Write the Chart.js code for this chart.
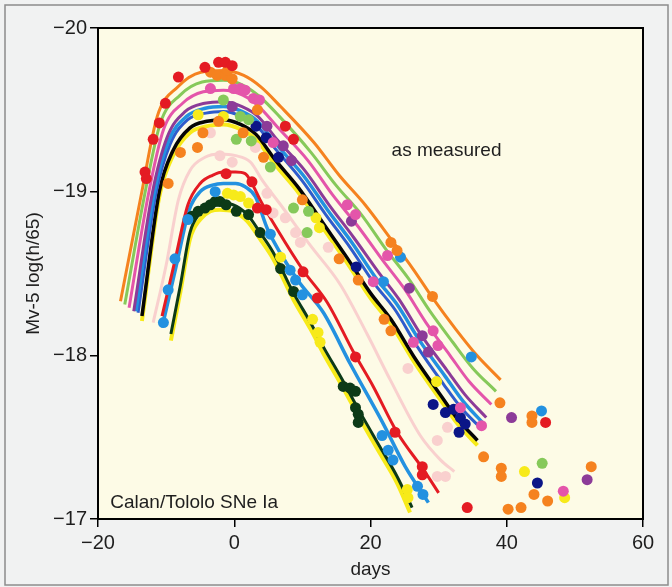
<!DOCTYPE html>
<html>
<head>
<meta charset="utf-8">
<script src="https://cdn.jsdelivr.net/npm/chart.js@4"></script>
<style>
  html, body { margin: 0; padding: 0; background: #f1f2f2; }
  canvas { display: block; }
</style>
</head>
<body>
<canvas id="lightCurves" width="672" height="587"></canvas>
<script>
// Calan/Tololo type Ia supernova light curves, as measured
// days since peak / absolute magnitude Mv - 5 log(h/65)

// --- fitted curves, bright group ---
const orangeDays = [-16.7, -13.7, -11.3, -8.3, -4.9, -1.6, 1.4, 3.9, 6.8, 11.7, 15.4, 19.2, 23.0, 26.2, 29.3, 32.5, 35.6, 39.1];
const orangeMags = [-18.33, -18.97, -19.46, -19.64, -19.73, -19.74, -19.71, -19.64, -19.52, -19.30, -19.10, -18.92, -18.71, -18.53, -18.34, -18.16, -18.00, -17.85];

const greenDays = [-16.07, -13.16, -10.84, -7.94, -4.72, -1.6, 1.32, 3.76, 6.62, 11.26, 14.92, 18.66, 22.4, 25.56, 28.72, 32.08, 35.04, 38.42];
const greenMags = [-18.31, -18.98, -19.42, -19.59, -19.67, -19.68, -19.65, -19.58, -19.46, -19.24, -19.04, -18.86, -18.64, -18.47, -18.27, -18.08, -17.92, -17.78];

const pinkDays = [-15.44, -12.62, -10.38, -7.58, -4.54, -1.6, 1.24, 3.62, 6.44, 10.82, 14.44, 18.12, 21.8, 24.92, 28.14, 31.66, 34.48, 37.74];
const pinkMags = [-18.29, -18.98, -19.38, -19.54, -19.61, -19.62, -19.59, -19.52, -19.39, -19.19, -18.98, -18.79, -18.58, -18.41, -18.20, -18.00, -17.84, -17.70];

const purpleDays = [-14.75, -12.03, -9.87, -7.18, -4.34, -1.6, 1.15, 3.47, 6.24, 10.34, 13.91, 17.53, 21.14, 24.22, 27.5, 31.2, 33.86, 36.99];
const purpleMags = [-18.27, -18.99, -19.33, -19.49, -19.54, -19.55, -19.52, -19.46, -19.32, -19.13, -18.92, -18.72, -18.51, -18.34, -18.12, -17.91, -17.76, -17.62];

const blueDays = [-14.43, -11.76, -9.64, -7.0, -4.25, -1.6, 1.11, 3.4, 6.15, 10.12, 13.67, 17.26, 20.84, 23.9, 27.21, 30.99, 33.58, 36.65];
const blueMags = [-18.27, -18.99, -19.31, -19.46, -19.51, -19.52, -19.49, -19.43, -19.29, -19.10, -18.89, -18.69, -18.47, -18.31, -18.09, -17.87, -17.72, -17.58];

const royalDays = [-14.12, -11.49, -9.41, -6.82, -4.16, -1.6, 1.07, 3.33, 6.06, 9.9, 13.43, 16.99, 20.54, 23.58, 26.92, 30.78, 33.3, 36.31];
const royalMags = [-18.26, -18.99, -19.29, -19.44, -19.48, -19.49, -19.46, -19.40, -19.26, -19.07, -18.86, -18.66, -18.44, -18.28, -18.05, -17.82, -17.68, -17.55];

const blackDays = [-13.55, -11.0, -9.0, -6.5, -4.0, -1.6, 1.0, 3.2, 5.9, 9.5, 13.0, 16.5, 20.0, 23.0, 26.4, 30.4, 32.8, 35.7];
const blackMags = [-18.24, -19.00, -19.25, -19.39, -19.43, -19.44, -19.41, -19.35, -19.20, -19.02, -18.81, -18.60, -18.38, -18.22, -17.99, -17.75, -17.61, -17.48];

const yellowDays = [-13.55, -11.0, -9.0, -6.5, -4.0, -1.6, 1.0, 3.2, 5.9, 9.5, 13.0, 16.5, 20.0, 23.0, 26.4, 30.4, 32.8, 35.7];
const yellowMags = [-18.21, -18.97, -19.22, -19.36, -19.40, -19.41, -19.38, -19.32, -19.17, -18.99, -18.78, -18.57, -18.35, -18.19, -17.96, -17.72, -17.58, -17.45];

// --- fitted curves, faint group ---
const paleDays = [-11.9, -10.0, -8.2, -6.5, -4.3, -2.1, 0.2, 2.4, 4.1, 6.8, 11.2, 15.6, 19.5, 22.9, 27.3, 30.3, 32.3];
const paleMags = [-18.20, -18.55, -18.95, -19.13, -19.21, -19.23, -19.22, -19.18, -19.07, -18.92, -18.67, -18.43, -18.13, -17.85, -17.51, -17.36, -17.29];

const redDays = [-10.6, -8.7, -6.8, -5.0, -3.2, -1.6, 0.2, 1.6, 2.6, 3.8, 6.3, 10.1, 13.7, 17.5, 20.4, 23.9, 27.8, 30.0];
const redMags = [-18.24, -18.58, -18.92, -19.05, -19.10, -19.12, -19.12, -19.11, -19.05, -18.95, -18.77, -18.52, -18.32, -18.02, -17.81, -17.53, -17.30, -17.16];

const skyDays = [-10.6, -8.5, -6.6, -5.0, -3.2, -1.6, 0.2, 1.6, 3.1, 4.9, 9.3, 13.1, 17.0, 21.9, 25.1, 28.5];
const skyMags = [-18.17, -18.55, -18.89, -19.00, -19.04, -19.05, -19.05, -19.03, -18.97, -18.77, -18.46, -18.26, -17.95, -17.58, -17.32, -17.10];

const forestDays = [-9.3, -7.9, -6.5, -5.0, -3.5, -2.1, -0.2, 1.9, 3.8, 5.7, 8.7, 11.2, 13.1, 15.6, 18.5, 21.4, 23.9, 26.1];
const forestMags = [-18.13, -18.43, -18.75, -18.87, -18.92, -18.93, -18.92, -18.86, -18.75, -18.63, -18.38, -18.20, -18.05, -17.87, -17.65, -17.44, -17.26, -17.07];

const lemonDays = [-9.3, -7.9, -6.5, -5.0, -3.5, -2.1, -0.2, 1.9, 3.8, 5.7, 8.7, 11.2, 13.1, 15.6, 18.5, 21.4, 23.9, 25.8];
const lemonMags = [-18.09, -18.39, -18.71, -18.83, -18.88, -18.89, -18.88, -18.82, -18.71, -18.59, -18.34, -18.16, -18.01, -17.83, -17.61, -17.40, -17.22, -17.04];

// --- measured points [day, mag] ---
const redDots = [[-8.2, -19.70], [-4.3, -19.76], [-2.3, -19.79], [-1.3, -19.79], [-0.3, -19.77], [-10.1, -19.54], [-11.0, -19.42], [-11.9, -19.32], [-13.1, -19.12], [-12.9, -19.08], [-1.2, -19.11], [2.6, -19.06], [3.4, -18.90], [4.7, -18.89], [7.5, -19.40], [8.7, -19.32], [10.1, -18.51], [12.2, -18.35], [17.8, -17.99], [23.6, -17.53], [27.6, -17.32], [27.6, -17.27], [34.2, -17.07], [45.7, -17.59]];
const orangeDots = [[-3.5, -19.73], [-2.5, -19.71], [-1.3, -19.71], [-0.3, -19.69], [-1.0, -19.74], [3.4, -19.50], [-2.3, -19.43], [-4.6, -19.36], [-5.4, -19.27], [-7.9, -19.24], [1.3, -19.36], [4.3, -19.21], [-9.7, -19.05], [10.0, -18.95], [15.4, -18.59], [18.2, -18.46], [23.0, -18.69], [23.9, -18.64], [29.1, -18.36], [22.0, -18.22], [23.0, -18.15], [39.0, -17.71], [43.7, -17.63], [43.7, -17.59], [36.6, -17.38], [39.2, -17.31], [39.2, -17.26], [44.0, -17.15], [46.0, -17.11], [40.2, -17.06], [42.1, -17.07], [52.4, -17.32]];
const greenDots = [[-1.6, -19.56], [0.9, -19.46], [2.1, -19.44], [0.3, -19.32], [2.5, -19.31], [5.3, -19.15], [8.7, -18.90], [10.9, -18.88], [10.7, -18.75], [45.2, -17.34]];
const pinkDots = [[-3.5, -19.63], [-0.1, -19.63], [0.9, -19.63], [1.6, -19.62], [2.8, -19.57], [3.7, -19.56], [5.7, -19.30], [16.6, -18.92], [17.8, -18.86], [22.5, -18.61], [20.4, -18.45], [26.3, -18.08], [29.2, -18.15], [29.9, -18.06], [33.2, -17.68], [36.3, -17.57], [48.3, -17.17]];
const purpleDots = [[-0.3, -19.52], [4.8, -19.40], [7.2, -19.28], [8.4, -19.19], [17.2, -18.82], [25.7, -18.41], [27.6, -18.12], [28.5, -18.02], [40.7, -17.62], [51.8, -17.24]];
const skyDots = [[24.4, -18.60], [21.9, -18.45], [34.8, -17.99], [45.1, -17.66], [-10.4, -18.20], [-9.7, -18.40], [-8.7, -18.59], [-6.8, -18.83], [-2.8, -19.00], [5.3, -18.74], [8.2, -18.52], [9.0, -18.46], [10.0, -18.37], [21.7, -17.51], [22.6, -17.42], [23.3, -17.36], [26.9, -17.20], [27.7, -17.15]];
const navyDots = [[3.2, -19.40], [4.7, -19.33], [6.5, -19.21], [17.9, -18.54], [29.2, -17.70], [31.0, -17.65], [32.2, -17.67], [33.2, -17.62], [33.9, -17.58], [33.0, -17.53], [44.5, -17.22]];
const yellowDots = [[-5.3, -19.47], [-1.6, -19.46], [12.0, -18.84], [12.5, -18.78], [29.7, -17.84], [42.6, -17.29], [48.5, -17.13], [-1.0, -18.99], [-0.1, -18.98], [0.9, -18.97], [2.1, -18.93], [6.8, -18.60], [11.5, -18.22], [12.3, -18.14], [12.6, -18.08], [25.4, -17.18], [25.5, -17.13]];
const forestDots = [[-6.2, -18.85], [-5.3, -18.88], [-4.3, -18.90], [-3.5, -18.92], [-2.8, -18.94], [-2.1, -18.94], [-1.2, -18.92], [0.3, -18.88], [2.1, -18.86], [3.8, -18.75], [6.8, -18.53], [8.7, -18.39], [16.0, -17.81], [17.0, -17.80], [17.8, -17.78], [17.8, -17.68], [18.2, -17.64], [18.2, -17.59]];
const paleDots = [[-3.5, -19.36], [-2.1, -19.22], [-0.3, -19.18], [3.1, -19.27], [4.8, -18.99], [5.7, -18.87], [7.5, -18.84], [9.0, -18.75], [9.7, -18.69], [13.8, -18.66], [25.5, -17.92], [31.3, -17.56], [29.8, -17.48], [29.8, -17.26], [31.0, -17.26]];

const dayTicks = [-20, 0, 20, 40, 60];
const magTicks = [-20, -19, -18, -17];

const colors = {
    red: '#e41b23',
    orange: '#f5821f',
    green: '#86c95a',
    pink: '#e455aa',
    purple: '#8c3b98',
    blue: '#2391e0',
    royal: '#2f5ccc',
    navy: '#0b1587',
    black: '#050505',
    yellow: '#f7ea1a',
    pale: '#f9d0ce',
    forest: '#0c3a17'
};

function toPoints(days, mags) {
    return days.map((d, i) => ({ x: d, y: mags[i] }));
}

function pairsToPoints(pairs) {
    return pairs.map(p => ({ x: p[0], y: p[1] }));
}

function curve(label, days, mags, color, width, order) {
    return {
        type: 'line',
        label: label,
        data: toPoints(days, mags),
        borderColor: color,
        borderWidth: width,
        pointRadius: 0,
        fill: false,
        cubicInterpolationMode: 'monotone',
        order: order
    };
}

function dots(label, pairs, color) {
    return {
        type: 'scatter',
        label: label,
        data: pairsToPoints(pairs),
        backgroundColor: color,
        borderWidth: 0,
        pointRadius: 5.5,
        pointHoverRadius: 5.5,
        order: 0
    };
}

const datasets = [
    dots('red', redDots, colors.red),
    dots('orange', orangeDots, colors.orange),
    dots('green', greenDots, colors.green),
    dots('pink', pinkDots, colors.pink),
    dots('purple', purpleDots, colors.purple),
    dots('sky', skyDots, colors.blue),
    dots('navy', navyDots, colors.navy),
    dots('yellow', yellowDots, colors.yellow),
    dots('forest', forestDots, colors.forest),
    dots('pale', paleDots, colors.pale),

    curve('orange fit', orangeDays, orangeMags, colors.orange, 3, 2),
    curve('green fit', greenDays, greenMags, colors.green, 3, 2),
    curve('pink fit', pinkDays, pinkMags, colors.pink, 3, 2),
    curve('purple fit', purpleDays, purpleMags, colors.purple, 3, 2),
    curve('blue fit', blueDays, blueMags, colors.blue, 3.5, 2),
    curve('royal fit', royalDays, royalMags, colors.royal, 3, 2),
    curve('black fit', blackDays, blackMags, colors.black, 3.5, 2),
    curve('yellow fit', yellowDays, yellowMags, colors.yellow, 4, 3),
    curve('red fit', redDays, redMags, colors.red, 3, 2),
    curve('sky fit', skyDays, skyMags, colors.blue, 3.5, 2),
    curve('forest fit', forestDays, forestMags, colors.forest, 3, 2),
    curve('lemon fit', lemonDays, lemonMags, colors.yellow, 4, 3),
    curve('pale fit', paleDays, paleMags, colors.pale, 3, 4)
];

const minus = v => String(v).replace('-', '\u2212');
const font = '"Liberation Sans", Arial, sans-serif';

// paper, plot background, frame and the two captions
const paperPlugin = {
    id: 'paper',
    beforeDraw(chart) {
        const { ctx, chartArea: a, width, height } = chart;
        ctx.save();
        ctx.fillStyle = '#f1f2f2';
        ctx.fillRect(0, 0, width, height);
        ctx.strokeStyle = '#8c8c8c';
        ctx.lineWidth = 1.5;
        ctx.strokeRect(5, 5, width - 9, height - 7);
        ctx.fillStyle = '#fdfbe6';
        ctx.fillRect(a.left, a.top, a.right - a.left, a.bottom - a.top);
        ctx.restore();
    },
    afterDraw(chart) {
        const { ctx, chartArea: a, scales } = chart;
        ctx.save();
        ctx.strokeStyle = '#000';
        ctx.lineWidth = 2;
        ctx.strokeRect(a.left, a.top, a.right - a.left, a.bottom - a.top);
        ctx.fillStyle = '#1e1e1e';
        ctx.font = '19px ' + font;
        ctx.textBaseline = 'alphabetic';
        ctx.fillText('as measured', scales.x.getPixelForValue(23.1), scales.y.getPixelForValue(-19.22));
        ctx.fillText('Calan/Tololo SNe Ia', scales.x.getPixelForValue(-18.2), scales.y.getPixelForValue(-17.07));
        ctx.restore();
    }
};

new Chart(document.getElementById('lightCurves'), {
    type: 'scatter',
    data: { datasets: datasets },
    options: {
        responsive: false,
        animation: false,
        devicePixelRatio: 1,
        layout: { padding: { left: 18, right: 29, top: 28, bottom: 4 } },
        plugins: {
            legend: { display: false },
            tooltip: { enabled: false }
        },
        scales: {
            x: {
                type: 'linear',
                min: dayTicks[0],
                max: dayTicks[dayTicks.length - 1],
                afterBuildTicks: scale => { scale.ticks = dayTicks.map(v => ({ value: v })); },
                afterFit: scale => { scale.height = 64; },
                ticks: {
                    color: '#1e1e1e',
                    font: { family: font, size: 20 },
                    padding: 4,
                    callback: minus
                },
                grid: { drawOnChartArea: false, tickLength: 8, color: '#000', lineWidth: 1.5 },
                border: { display: true, color: '#000', width: 2 },
                title: {
                    display: true,
                    text: 'days',
                    color: '#1e1e1e',
                    font: { family: font, size: 19 },
                    padding: { top: 0, bottom: 2 }
                }
            },
            y: {
                type: 'linear',
                reverse: true,
                min: magTicks[0],
                max: magTicks[magTicks.length - 1],
                afterBuildTicks: scale => { scale.ticks = magTicks.map(v => ({ value: v })); },
                afterFit: scale => { scale.width = 80; },
                ticks: {
                    color: '#1e1e1e',
                    font: { family: font, size: 20 },
                    padding: 3,
                    callback: minus
                },
                grid: { drawOnChartArea: false, tickLength: 8, color: '#000', lineWidth: 1.5 },
                border: { display: true, color: '#000', width: 2 },
                title: {
                    display: true,
                    text: 'Mv-5 log(h/65)',
                    color: '#1e1e1e',
                    font: { family: font, size: 19 },
                    padding: { top: 4, bottom: 0 }
                }
            }
        }
    },
    plugins: [paperPlugin]
});
</script>
</body>
</html>
